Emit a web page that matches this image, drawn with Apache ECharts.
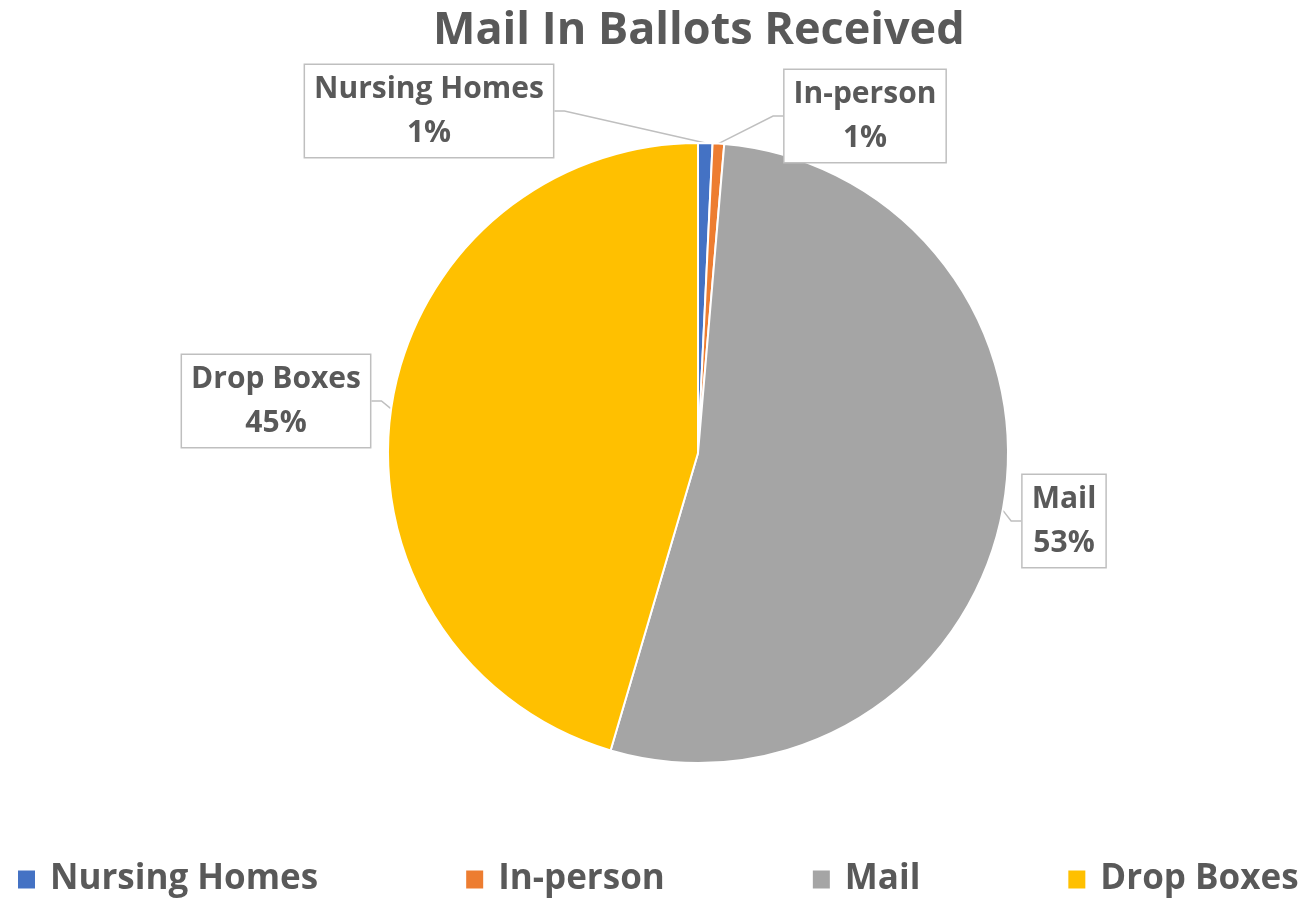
<!DOCTYPE html>
<html>
<head>
<meta charset="utf-8">
<script src="https://cdn.jsdelivr.net/npm/echarts@6/dist/echarts.min.js"></script>
<style>
  html, body { margin: 0; padding: 0; background: #fff; }
  #main { width: 1309px; height: 900px; }
</style>
</head>
<body>
<div id="main"></div>
<script>
var categories = ['Nursing Homes', 'In-person', 'Mail', 'Drop Boxes'];
var values = [0.75, 0.6, 53.2, 45.45];
var colors = ['#4472C4', '#ED7D31', '#A5A5A5', '#FFC000'];
// where each callout box sits (centre, px)
var labelSpots = [[429, 111], [865, 116], [1064, 521], [276, 401]];

var myChart = echarts.init(document.getElementById('main'));
var font = '"Open Sans", sans-serif';

var pieData = categories.map(function (c, i) {
  return { name: c, value: values[i], itemStyle: { color: colors[i] } };
});

var option = {
  animation: false,
  title: {
    text: 'Mail In Ballots Received',
    left: 428,
    top: 4,
    textStyle: { fontFamily: font, fontSize: 45, fontWeight: 'bold', color: '#595959' }
  },
  legend: {
    top: 857,
    left: 11,
    icon: 'rect',
    itemWidth: 19,
    itemHeight: 20,
    itemGap: 146,
    textStyle: { fontFamily: font, fontSize: 35, fontWeight: 'bold', color: '#595959', padding: [0, 0, 0, 9] },
    data: categories
  },
  series: [{
    type: 'pie',
    center: [698, 453],
    radius: 310,
    startAngle: 90,
    clockwise: true,
    avoidLabelOverlap: false,
    itemStyle: { borderColor: '#fff', borderWidth: 2 },
    label: {
      show: true,
      formatter: function (p) { return p.name + '\n' + Math.round(p.percent) + '%'; },
      fontFamily: font,
      fontSize: 30,
      fontWeight: 'bold',
      color: '#595959',
      lineHeight: 44,
      align: 'center',
      backgroundColor: '#fff',
      borderColor: '#BFBFBF',
      borderWidth: 1.5,
      padding: [2, 9]
    },
    labelLine: {
      show: true,
      length: 20,
      length2: 10,
      lineStyle: { color: '#BFBFBF', width: 1.5 }
    },
    labelLayout: function (params) {
      var s = labelSpots[params.dataIndex];
      return { x: s[0], y: s[1], align: 'center', verticalAlign: 'middle' };
    },
    emphasis: { disabled: true },
    data: pieData
  }]
};
myChart.setOption(option);
</script>
</body>
</html>
